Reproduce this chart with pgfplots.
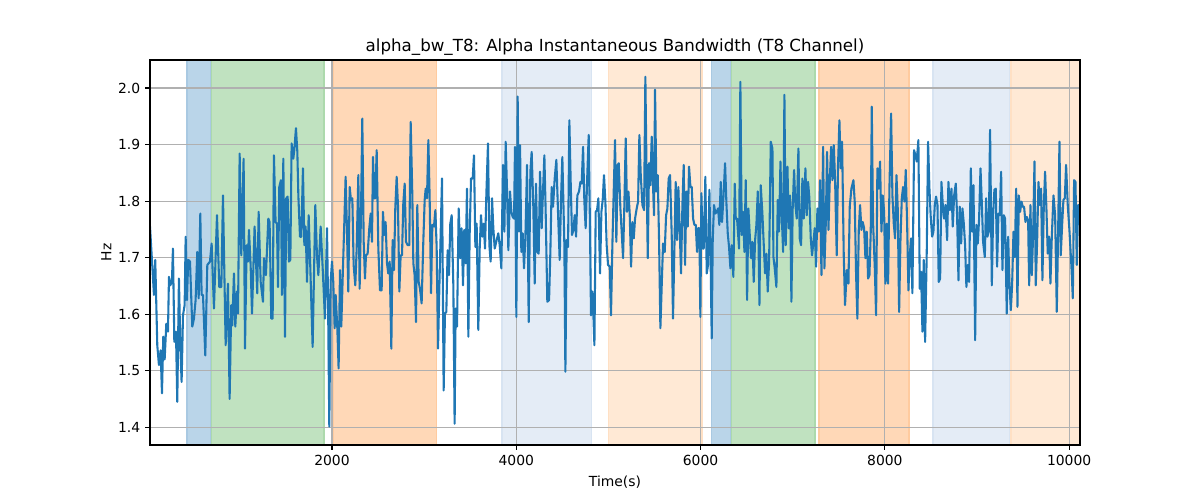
\documentclass[border=0pt]{standalone}
\usepackage{pgfplots}
\pgfplotsset{compat=1.18}
\usepackage{fontspec}
\setmainfont{DejaVu Sans}
\definecolor{tabblue}{HTML}{1F77B4}
\definecolor{spanblue}{HTML}{BAD5E9}
\definecolor{spanblueE}{HTML}{A9C9E2}
\definecolor{spangreen}{HTML}{C0E2C0}
\definecolor{spangreenE}{HTML}{ACD9AC}
\definecolor{spanorange}{HTML}{FFD8B7}
\definecolor{spanorangeE}{HTML}{FFCB9F}
\definecolor{spanlblue}{HTML}{E4ECF6}
\definecolor{spanlblueE}{HTML}{D8E4F2}
\definecolor{spanlorange}{HTML}{FFE9D5}
\definecolor{spanlorangeE}{HTML}{FFE0C4}
\definecolor{gridgray}{HTML}{B0B0B0}
\begin{document}
\begin{tikzpicture}
\path (-108pt,-39.6pt) rectangle (756pt,320.4pt);
\begin{axis}[
  at={(0,0)}, anchor=south west,
  scale only axis, width=669.6pt, height=277.2pt,
  xmin=25, xmax=10118, ymin=1.3685, ymax=2.0496,
  axis on top,
  axis line style={line width=0.8pt, black},
  tick align=outside, tick pos=left,
  major tick length=3.5pt,
  every tick/.style={black, line width=0.8pt},
  xtick={2000,4000,6000,8000,10000},
  ytick={1.4,1.5,1.6,1.7,1.8,1.9,2.0},
  scaled x ticks=false, scaled y ticks=false,
  /pgf/number format/assume math mode=true,
  xticklabel style={/pgf/number format/1000 sep={}, font=\fontsize{10}{12}\selectfont},
  yticklabel style={/pgf/number format/fixed, /pgf/number format/fixed zerofill, /pgf/number format/precision=1, font=\fontsize{10}{12}\selectfont},
  title={alpha\_bw\_T8: Alpha Instantaneous Bandwidth (T8 Channel)},
  title style={font=\fontsize{12}{14}\selectfont, at={(0.5,1)}, anchor=south, yshift=-6pt},
  xlabel={Time(s)},
  ylabel={Hz},
  label style={font=\fontsize{10}{12}\selectfont},
  xlabel style={yshift=-1pt},
  ylabel style={yshift=-2pt},
  clip=true,
]
\addplot[fill=spanblue, draw=spanblueE, line width=1pt] coordinates {(426,1.3) (426,2.1) (687,2.1) (687,1.3)} -- cycle;
\addplot[fill=spangreen, draw=spangreenE, line width=1pt] coordinates {(694,1.3) (694,2.1) (1913,2.1) (1913,1.3)} -- cycle;
\addplot[fill=spanorange, draw=spanorangeE, line width=1pt] coordinates {(2014,1.3) (2014,2.1) (3132,2.1) (3132,1.3)} -- cycle;
\addplot[fill=spanlblue, draw=spanlblueE, line width=1pt] coordinates {(3845,1.3) (3845,2.1) (4819,2.1) (4819,1.3)} -- cycle;
\addplot[fill=spanlorange, draw=spanlorangeE, line width=1pt] coordinates {(5000,1.3) (5000,2.1) (6016,2.1) (6016,1.3)} -- cycle;
\addplot[fill=spanblue, draw=spanblueE, line width=1pt] coordinates {(6117,1.3) (6117,2.1) (6323,2.1) (6323,1.3)} -- cycle;
\addplot[fill=spangreen, draw=spangreenE, line width=1pt] coordinates {(6334,1.3) (6334,2.1) (7243,2.1) (7243,1.3)} -- cycle;
\addplot[fill=spanorange, draw=spanorangeE, line width=1pt] coordinates {(7286,1.3) (7286,2.1) (8263,2.1) (8263,1.3)} -- cycle;
\addplot[fill=spanlblue, draw=spanlblueE, line width=1pt] coordinates {(8524,1.3) (8524,2.1) (9352,2.1) (9352,1.3)} -- cycle;
\addplot[fill=spanlorange, draw=spanlorangeE, line width=1pt] coordinates {(9367,1.3) (9367,2.1) (10300,2.1) (10300,1.3)} -- cycle;
% grid lines
\addplot[gridgray, line width=0.8pt] coordinates {(0,1.4) (10300,1.4)};
\addplot[gridgray, line width=0.8pt] coordinates {(0,1.5) (10300,1.5)};
\addplot[gridgray, line width=0.8pt] coordinates {(0,1.6) (10300,1.6)};
\addplot[gridgray, line width=0.8pt] coordinates {(0,1.7) (10300,1.7)};
\addplot[gridgray, line width=0.8pt] coordinates {(0,1.8) (10300,1.8)};
\addplot[gridgray, line width=0.8pt] coordinates {(0,1.9) (10300,1.9)};
\addplot[gridgray, line width=0.8pt] coordinates {(0,2.0) (10300,2.0)};
\addplot[gridgray, line width=0.8pt] coordinates {(2000,1.3) (2000,2.1)};
\addplot[gridgray, line width=0.8pt] coordinates {(4000,1.3) (4000,2.1)};
\addplot[gridgray, line width=0.8pt] coordinates {(6000,1.3) (6000,2.1)};
\addplot[gridgray, line width=0.8pt] coordinates {(8000,1.3) (8000,2.1)};
\addplot[gridgray, line width=0.8pt] coordinates {(10000,1.3) (10000,2.1)};
\addplot[tabblue, line width=1.5pt, line join=round, mark=none] table {
25 1.755
68 1.634
82 1.696
104 1.545
122 1.51
140 1.536
155 1.46
169 1.56
184 1.52
202 1.583
220 1.569
231 1.666
245 1.651
263 1.657
274 1.716
289 1.551
307 1.569
321 1.445
339 1.663
354 1.545
368 1.48
383 1.598
401 1.616
412 1.737
426 1.625
440 1.696
459 1.693
484 1.578
502 1.592
520 1.625
538 1.71
553 1.628
571 1.778
585 1.634
600 1.634
625 1.527
647 1.687
676 1.693
694 1.725
719 1.61
752 1.775
777 1.648
799 1.648
817 1.81
846 1.545
871 1.654
889 1.45
907 1.616
918 1.58
936 1.672
951 1.578
969 1.64
980 1.601
998 1.884
1016 1.704
1041 1.875
1056 1.539
1074 1.722
1088 1.693
1099 1.749
1117 1.687
1132 1.601
1160 1.755
1189 1.637
1204 1.781
1226 1.657
1251 1.622
1262 1.699
1283 1.669
1309 1.769
1323 1.763
1341 1.592
1356 1.592
1370 1.881
1388 1.763
1403 1.76
1414 1.648
1428 1.825
1446 1.837
1457 1.634
1472 1.875
1490 1.56
1504 1.805
1519 1.808
1533 1.693
1548 1.696
1562 1.902
1580 1.875
1591 1.89
1609 1.929
1624 1.887
1635 1.81
1653 1.737
1667 1.737
1685 1.858
1700 1.722
1714 1.755
1729 1.657
1747 1.775
1765 1.681
1790 1.542
1819 1.793
1837 1.704
1852 1.669
1877 1.755
1899 1.681
1924 1.592
1946 1.752
1957 1.628
1971 1.401
1985 1.657
2000 1.693
2014 1.657
2029 1.575
2040 1.634
2058 1.575
2072 1.504
2087 1.678
2101 1.578
2119 1.681
2134 1.763
2148 1.843
2163 1.746
2177 1.64
2192 1.825
2206 1.802
2221 1.805
2235 1.687
2253 1.651
2268 1.716
2286 1.846
2300 1.645
2315 1.781
2329 1.946
2344 1.728
2358 1.663
2369 1.704
2387 1.707
2405 1.752
2420 1.778
2434 1.728
2445 1.878
2459 1.805
2470 1.805
2485 1.89
2503 1.716
2521 1.642
2539 1.642
2553 1.781
2568 1.74
2582 1.763
2597 1.69
2611 1.672
2626 1.693
2644 1.539
2658 1.731
2673 1.678
2687 1.787
2702 1.843
2716 1.793
2731 1.64
2745 1.704
2760 1.704
2774 1.796
2789 1.831
2803 1.728
2821 1.722
2839 1.722
2854 1.94
2872 1.81
2883 1.69
2897 1.669
2912 1.586
2926 1.793
2941 1.657
2955 1.645
2973 1.619
2991 1.728
3006 1.802
3017 1.822
3031 1.805
3046 1.908
3060 1.805
3075 1.637
3089 1.758
3107 1.755
3122 1.784
3136 1.719
3151 1.539
3165 1.645
3180 1.746
3194 1.84
3212 1.465
3226 1.601
3241 1.604
3255 1.713
3270 1.669
3284 1.76
3299 1.775
3317 1.651
3331 1.406
3342 1.61
3357 1.578
3375 1.787
3393 1.699
3407 1.752
3422 1.651
3436 1.749
3451 1.69
3465 1.822
3480 1.56
3494 1.74
3509 1.84
3527 1.84
3541 1.881
3556 1.719
3570 1.76
3588 1.572
3603 1.716
3617 1.775
3632 1.737
3646 1.76
3661 1.716
3675 1.81
3693 1.902
3708 1.722
3722 1.693
3737 1.805
3751 1.752
3766 1.716
3787 1.731
3805 1.743
3820 1.722
3838 1.681
3856 1.864
3871 1.746
3885 1.905
3900 1.817
3914 1.713
3932 1.817
3947 1.781
3961 1.772
3976 1.769
3986 1.896
4001 1.595
4015 1.985
4030 1.746
4041 1.899
4055 1.71
4070 1.743
4084 1.681
4099 1.737
4117 1.864
4135 1.586
4153 1.852
4167 1.887
4185 1.79
4200 1.654
4214 1.831
4229 1.71
4243 1.707
4258 1.852
4276 1.752
4290 1.817
4305 1.881
4319 1.781
4337 1.622
4356 1.625
4370 1.71
4384 1.825
4399 1.79
4417 1.84
4435 1.873
4453 1.781
4471 1.696
4486 1.805
4500 1.878
4522 1.722
4533 1.498
4547 1.731
4562 1.719
4576 1.943
4591 1.831
4605 1.74
4620 1.749
4634 1.775
4649 1.737
4663 1.81
4681 1.817
4696 1.834
4710 1.831
4725 1.896
4739 1.799
4753 1.752
4772 1.852
4786 1.917
4800 1.752
4811 1.598
4826 1.64
4837 1.598
4848 1.545
4862 1.781
4877 1.784
4891 1.805
4909 1.672
4924 1.781
4938 1.802
4952 1.846
4967 1.799
4981 1.722
4996 1.687
5014 1.684
5028 1.598
5043 1.722
5057 1.814
5072 1.908
5086 1.728
5101 1.864
5112 1.867
5130 1.787
5144 1.746
5159 1.699
5173 1.793
5188 1.911
5202 1.781
5217 1.817
5231 1.778
5246 1.684
5260 1.763
5275 1.734
5289 1.769
5307 1.787
5322 1.799
5336 1.917
5351 1.846
5369 1.793
5387 1.784
5401 2.02
5412 1.875
5427 1.699
5441 1.867
5455 1.828
5470 1.914
5484 1.828
5495 1.775
5506 1.997
5521 1.817
5535 1.846
5550 1.728
5564 1.575
5582 1.669
5593 1.725
5611 1.71
5626 1.775
5640 1.787
5654 1.84
5669 1.846
5687 1.74
5701 1.592
5716 1.716
5730 1.834
5745 1.731
5759 1.825
5774 1.749
5788 1.672
5803 1.793
5817 1.864
5832 1.687
5846 1.817
5861 1.755
5875 1.861
5890 1.825
5904 1.825
5919 1.769
5933 1.758
5948 1.758
5962 1.71
5973 1.752
5987 1.752
5998 1.595
6009 1.814
6024 1.716
6034 1.716
6052 1.843
6067 1.672
6081 1.687
6096 1.82
6110 1.687
6121 1.557
6132 1.731
6146 1.793
6161 1.778
6175 1.781
6190 1.787
6204 1.758
6219 1.834
6233 1.763
6248 1.805
6266 1.867
6280 1.799
6295 1.743
6309 1.719
6324 1.681
6338 1.722
6356 1.666
6371 1.831
6382 1.769
6396 1.769
6418 1.716
6432 2.011
6447 1.74
6461 1.781
6476 1.71
6490 1.837
6505 1.625
6519 1.787
6534 1.74
6548 1.699
6563 1.728
6577 1.657
6592 1.731
6606 1.758
6621 1.817
6639 1.616
6653 1.828
6671 1.778
6686 1.722
6700 1.672
6715 1.707
6729 1.64
6744 1.693
6762 1.905
6780 1.893
6791 1.701
6805 1.681
6823 1.648
6838 1.802
6852 1.746
6867 1.87
6881 1.775
6896 1.71
6910 1.988
6924 1.722
6943 1.861
6957 1.752
6972 1.81
6986 1.622
7000 1.787
7015 1.855
7029 1.793
7044 1.769
7062 1.893
7076 1.734
7091 1.722
7105 1.84
7120 1.769
7138 1.858
7152 1.775
7167 1.834
7181 1.805
7196 1.734
7210 1.704
7225 1.728
7239 1.752
7254 1.684
7268 1.787
7283 1.746
7297 1.837
7312 1.669
7330 1.896
7344 1.681
7359 1.76
7373 1.887
7388 1.749
7402 1.834
7417 1.896
7431 1.837
7446 1.899
7460 1.837
7478 1.704
7492 1.864
7507 1.943
7521 1.858
7536 1.905
7554 1.704
7568 1.616
7587 1.678
7605 1.654
7619 1.79
7637 1.822
7659 1.837
7673 1.799
7688 1.669
7702 1.592
7717 1.749
7731 1.793
7746 1.749
7760 1.763
7775 1.752
7789 1.699
7804 1.746
7818 1.663
7833 1.669
7847 1.746
7858 1.967
7872 1.763
7891 1.681
7905 1.598
7919 1.858
7934 1.822
7948 1.87
7963 1.746
7977 1.81
7992 1.781
8006 1.654
8021 1.76
8035 1.654
8050 1.825
8068 1.955
8082 1.81
8097 1.76
8111 1.734
8126 1.846
8140 1.787
8155 1.604
8169 1.728
8184 1.805
8198 1.825
8213 1.799
8227 1.855
8242 1.758
8256 1.642
8270 1.704
8285 1.734
8299 1.637
8317 1.89
8332 1.881
8346 1.87
8364 1.908
8379 1.645
8393 1.675
8408 1.569
8422 1.696
8437 1.551
8455 1.713
8469 1.905
8484 1.822
8498 1.772
8513 1.737
8527 1.746
8542 1.793
8556 1.808
8571 1.793
8585 1.657
8600 1.663
8614 1.834
8629 1.793
8643 1.769
8658 1.793
8676 1.731
8690 1.834
8705 1.784
8723 1.822
8737 1.755
8752 1.81
8770 1.831
8784 1.775
8799 1.66
8813 1.79
8828 1.725
8842 1.787
8857 1.76
8871 1.722
8885 1.648
8900 1.687
8914 1.657
8933 1.858
8947 1.746
8962 1.828
8980 1.554
8994 1.758
9009 1.725
9023 1.769
9038 1.858
9052 1.799
9066 1.728
9085 1.701
9099 1.805
9113 1.737
9128 1.746
9142 1.926
9161 1.651
9175 1.775
9189 1.82
9204 1.822
9218 1.684
9233 1.778
9247 1.775
9262 1.852
9276 1.678
9291 1.775
9305 1.769
9323 1.601
9338 1.737
9352 1.657
9367 1.607
9381 1.651
9396 1.746
9410 1.701
9425 1.822
9439 1.613
9454 1.81
9468 1.781
9483 1.799
9497 1.79
9511 1.79
9526 1.763
9540 1.772
9555 1.766
9566 1.651
9580 1.793
9595 1.669
9609 1.74
9624 1.87
9638 1.651
9653 1.731
9667 1.834
9681 1.793
9696 1.822
9710 1.66
9725 1.79
9739 1.852
9754 1.784
9768 1.707
9783 1.737
9797 1.654
9812 1.737
9830 1.81
9848 1.775
9866 1.604
9880 1.74
9895 1.905
9909 1.704
9924 1.758
9938 1.802
9953 1.805
9967 1.864
9985 1.793
10003 1.749
10025 1.684
10040 1.628
10054 1.837
10069 1.834
10083 1.687
10098 1.793
10118 1.793
};
\end{axis}
\end{tikzpicture}
\end{document}
